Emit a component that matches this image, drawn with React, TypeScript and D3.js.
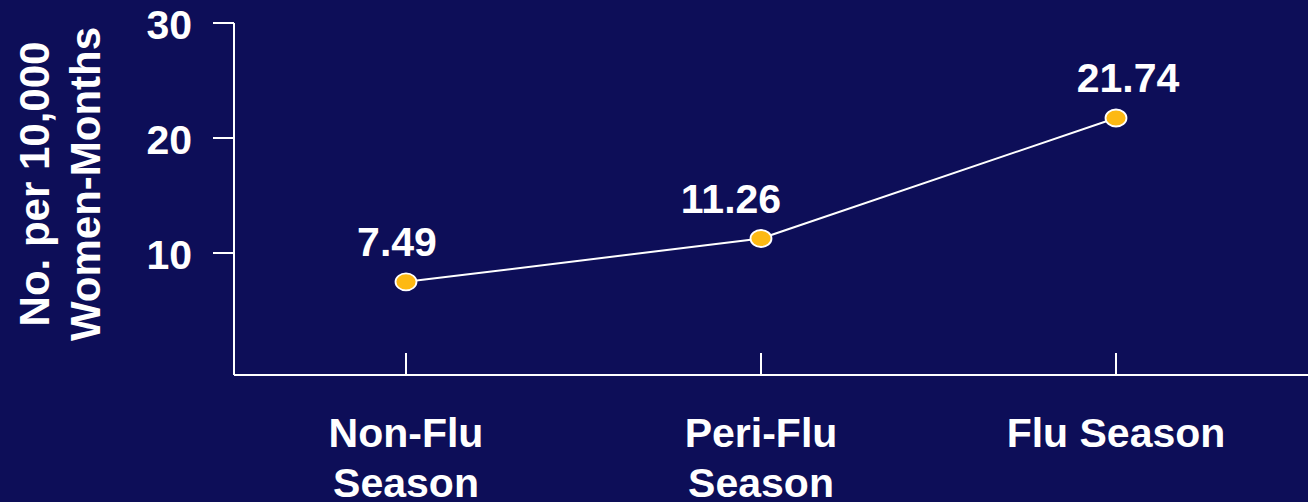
import * as d3 from 'd3';
import * as React from 'react';

const categories = ['Non-Flu Season', 'Peri-Flu Season', 'Flu Season'];
const categoryLines = [['Non-Flu', 'Season'], ['Peri-Flu', 'Season'], ['Flu Season']];
const rates = [7.49, 11.26, 21.74];
const yTicks = [10, 20, 30];
const yTitle = ['No. per 10,000', 'Women-Months'];
// small horizontal nudges for the value labels, as in the slide
const labelShift = [-9, -30, 12];

const WIDTH = 1308;
const HEIGHT = 502;
const BG = '#0d0e58';
const DOT = '#fdb913';
const FONT = 'Liberation Sans, Arial, Helvetica, sans-serif';

const axisLeft = 234;
const axisBottom = 375;

export default function App() {
  const x = React.useMemo(
    () => d3.scalePoint<string>().domain(categories).range([406, 1116]),
    [],
  );
  const y = React.useMemo(() => d3.scaleLinear().domain([0, 30]).range([368, 23]), []);

  const linePath = React.useMemo(() => {
    const gen = d3
      .line<number>()
      .x((_, i) => x(categories[i]) ?? 0)
      .y((d) => y(d));
    return gen(rates) ?? '';
  }, [x, y]);

  return (
    <div style={{ position: 'fixed', inset: 0, background: BG }}>
      <svg width={WIDTH} height={HEIGHT} style={{ display: 'block' }} fontFamily={FONT}>
        <rect width={WIDTH} height={HEIGHT} fill={BG} />

        {/* y axis */}
        <line x1={axisLeft} x2={axisLeft} y1={y(30)} y2={axisBottom} stroke="white" strokeWidth={2} />
        {yTicks.map((t) => (
          <g key={t} transform={`translate(0, ${y(t)})`}>
            <line x1={axisLeft - 21} x2={axisLeft} stroke="white" strokeWidth={2} />
            <text x={192} dy={16} textAnchor="end" fill="white" fontSize={41} fontWeight="bold">
              {t}
            </text>
          </g>
        ))}
        {yTitle.map((t, i) => (
          <text
            key={t}
            transform={`translate(${49 + i * 51}, 184) rotate(-90)`}
            textAnchor="middle"
            fill="white"
            fontSize={42}
            fontWeight="bold"
          >
            {t}
          </text>
        ))}

        {/* x axis */}
        <line x1={axisLeft} x2={WIDTH} y1={axisBottom} y2={axisBottom} stroke="white" strokeWidth={2} />
        {categories.map((c, i) => (
          <g key={c} transform={`translate(${x(c)}, 0)`}>
            <line y1={axisBottom - 22} y2={axisBottom} stroke="white" strokeWidth={2} />
            {categoryLines[i].map((ln, j) => (
              <text
                key={ln}
                y={447 + j * 50}
                textAnchor="middle"
                fill="white"
                fontSize={41}
                fontWeight="bold"
              >
                {ln}
              </text>
            ))}
          </g>
        ))}

        {/* series */}
        <path d={linePath} fill="none" stroke="white" strokeWidth={2} />
        {rates.map((v, i) => {
          const cx = x(categories[i]) ?? 0;
          const cy = y(v);
          return (
            <g key={i}>
              <ellipse cx={cx} cy={cy} rx={10.5} ry={8.5} fill={DOT} stroke="white" strokeWidth={1.8} />
              <text
                x={cx + labelShift[i]}
                y={cy - 26}
                textAnchor="middle"
                fill="white"
                fontSize={41}
                fontWeight="bold"
              >
                {v.toFixed(2)}
              </text>
            </g>
          );
        })}
      </svg>
    </div>
  );
}
